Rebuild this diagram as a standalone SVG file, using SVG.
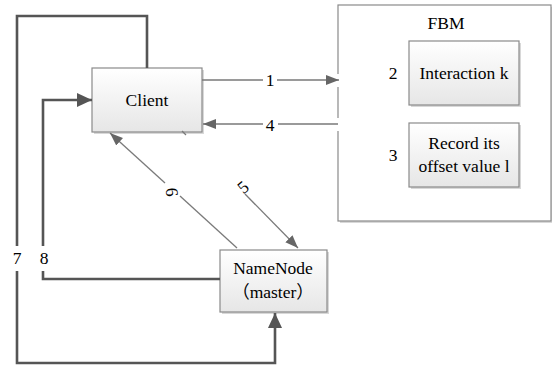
<svg xmlns="http://www.w3.org/2000/svg" width="552" height="367" viewBox="0 0 552 367">
<style>
text{font-size:17.5px;fill:#000;text-anchor:middle}
.box{stroke:#8a8a8a;stroke-width:1.2;fill:url(#g)}
.shadow{fill:#d8d8d8}
.thick{fill:none;stroke:#555;stroke-width:2.6}
.thin{fill:none;stroke:#7a7a7a;stroke-width:1.3}
</style>
<defs>
<linearGradient id="g" x1="0" y1="0" x2="0" y2="1">
<stop offset="0" stop-color="#ffffff"/>
<stop offset="1" stop-color="#e6e6e6"/>
</linearGradient>
<marker id="ah" markerUnits="userSpaceOnUse" markerWidth="16" markerHeight="14" refX="15" refY="7" orient="auto"><path d="M0,0 L15,7 L0,14 z" fill="#555"/></marker>
<marker id="at" markerUnits="userSpaceOnUse" markerWidth="14" markerHeight="11" refX="13" refY="5" orient="auto"><path d="M0,0 L13,5 L0,10 z" fill="#666"/></marker>
</defs>
<rect width="552" height="367" fill="#fff"/>
<g font-family="Liberation Serif, Times New Roman, Tinos, DejaVu Serif, serif">
<g id="fbm">
<rect x="340" y="7" width="213" height="216" class="shadow"/>
<rect x="338" y="5" width="213" height="216" fill="#fff" stroke="#8a8a8a" stroke-width="1.2"/>
<text x="446" y="29">FBM</text>
</g>
<g id="interaction">
<rect x="411" y="43" width="110" height="64" class="shadow"/>
<rect x="409" y="41" width="110" height="64" class="box"/>
<text x="464" y="79">Interaction k</text>
<text x="393" y="79">2</text>
</g>
<g id="record">
<rect x="411" y="125" width="110" height="64" class="shadow"/>
<rect x="409" y="123" width="110" height="64" class="box"/>
<text x="464" y="149">Record its</text>
<text x="464" y="172">offset value l</text>
<text x="393" y="161">3</text>
</g>
<g id="client">
<rect x="94" y="70" width="110" height="64" class="shadow"/>
<rect x="92" y="68" width="110" height="64" class="box"/>
<text x="147" y="106">Client</text>
</g>
<g id="namenode">
<rect x="222" y="252" width="107" height="62" class="shadow"/>
<rect x="220" y="250" width="107" height="62" class="box"/>
<text x="273" y="274">NameNode</text>
<text x="273" y="298"><tspan font-family="Noto Sans CJK SC, sans-serif">（</tspan>master<tspan font-family="Noto Sans CJK SC, sans-serif">）</tspan></text>
</g>
<g id="connectors">
<rect x="335" y="74" width="6" height="13" fill="#fff"/>
<rect x="335" y="118" width="6" height="13" fill="#fff"/>
<path class="thin" d="M202,80 H263 M277,80 H339" marker-end="url(#at)"/>
<text x="270" y="86">1</text>
<path class="thin" d="M338,124 H278 M263,124 H203" marker-end="url(#at)"/>
<text x="270" y="131">4</text>
<path class="thin" d="M237,248 L180,196"/>
<path class="thin" d="M165,183 L110,133" marker-end="url(#at)"/>
<text x="0" y="0" transform="translate(172,192) rotate(85)" dy="6">6</text>
<path class="thin" d="M182,131 L186,135"/>
<path class="thin" d="M245,194 L298,248" marker-end="url(#at)"/>
<text x="0" y="0" transform="translate(243,187) rotate(-40)" dy="6">5</text>
<path class="thick" d="M147,68 V16 H17 V246"/>
<path class="thick" d="M17,271 V363 H275 V313" marker-end="url(#ah)"/>
<text x="17" y="264">7</text>
<path class="thick" d="M220,279 H43 V271"/>
<path class="thick" d="M43,246 V100 H92" marker-end="url(#ah)"/>
<text x="44" y="264">8</text>
</g>
</g>
</svg>
